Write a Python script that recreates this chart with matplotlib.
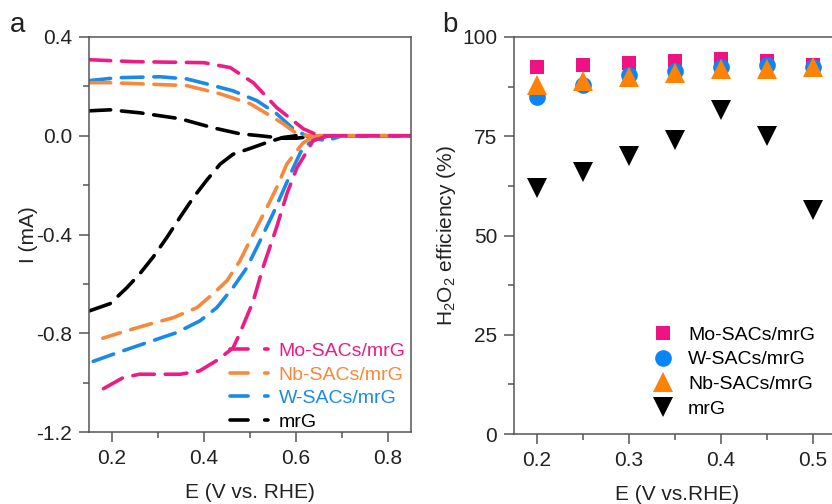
import matplotlib
matplotlib.use("Agg")
import matplotlib.pyplot as plt
from matplotlib.lines import Line2D
from matplotlib.ticker import MultipleLocator, FixedLocator

plt.rcParams['font.family'] = ['Liberation Sans', 'DejaVu Sans']
plt.rcParams['axes.unicode_minus'] = False
plt.rcParams['mathtext.fontset'] = 'custom'
plt.rcParams['mathtext.rm'] = 'Liberation Sans'

# ---------------- Panel a data ----------------
labels_a = ["Mo-SACs/mrG", "Nb-SACs/mrG", "W-SACs/mrG", "mrG"]

mo_E_up = [0.15, 0.25, 0.40, 0.457, 0.507, 0.558, 0.616, 0.65, 0.85]
mo_I_up = [0.308, 0.30, 0.296, 0.276, 0.215, 0.114, 0.028, 0.0, 0.0]
mo_E_dn = [0.67, 0.637, 0.62, 0.602, 0.58, 0.558, 0.528, 0.507, 0.478, 0.463, 0.428, 0.39, 0.348, 0.26, 0.224, 0.18]
mo_I_dn = [0.0, -0.02, -0.075, -0.13, -0.236, -0.37, -0.535, -0.67, -0.80, -0.86, -0.91, -0.953, -0.966, -0.966, -0.98, -1.026]

nb_E_up = [0.15, 0.196, 0.267, 0.363, 0.435, 0.50, 0.537, 0.572, 0.602, 0.63, 0.85]
nb_I_up = [0.215, 0.215, 0.21, 0.203, 0.17, 0.13, 0.089, 0.049, 0.008, 0.0, 0.0]
nb_E_dn = [0.64, 0.615, 0.602, 0.58, 0.558, 0.537, 0.507, 0.478, 0.45, 0.42, 0.385, 0.333, 0.282, 0.232, 0.18]
nb_I_dn = [0.0, -0.03, -0.06, -0.115, -0.21, -0.29, -0.398, -0.507, -0.587, -0.64, -0.696, -0.737, -0.763, -0.79, -0.82]

w_E_up = [0.15, 0.21, 0.304, 0.363, 0.406, 0.463, 0.515, 0.558, 0.594, 0.63, 0.667, 0.70, 0.85]
w_I_up = [0.223, 0.235, 0.239, 0.23, 0.21, 0.182, 0.142, 0.089, 0.028, -0.008, -0.02, 0.0, 0.0]
w_E_dn = [0.67, 0.646, 0.615, 0.594, 0.572, 0.55, 0.522, 0.493, 0.463, 0.428, 0.391, 0.341, 0.276, 0.21, 0.15]
w_I_dn = [0.0, -0.012, -0.047, -0.13, -0.223, -0.316, -0.425, -0.535, -0.615, -0.696, -0.75, -0.797, -0.838, -0.88, -0.92]

mrg_E_up = [0.15, 0.196, 0.26, 0.348, 0.42, 0.478, 0.522, 0.57, 0.60, 0.65, 0.85]
mrg_I_up = [0.101, 0.105, 0.093, 0.069, 0.032, 0.008, 0.0, -0.01, -0.01, 0.0, 0.0]
mrg_E_dn = [0.60, 0.572, 0.537, 0.507, 0.463, 0.435, 0.406, 0.377, 0.348, 0.32, 0.29, 0.26, 0.232, 0.196, 0.15]
mrg_I_dn = [0.0, -0.007, -0.027, -0.047, -0.075, -0.115, -0.18, -0.25, -0.33, -0.41, -0.49, -0.56, -0.616, -0.68, -0.71]

# ---------------- Panel b data ----------------
E_b = [0.20, 0.25, 0.30, 0.35, 0.40, 0.45, 0.50]
eff_mo = [92.5, 93.0, 93.5, 94.0, 94.5, 94.0, 93.0]
eff_w = [85.0, 88.0, 90.5, 91.5, 92.5, 93.0, 92.5]
eff_nb = [88.0, 89.0, 90.0, 91.0, 92.0, 92.0, 92.5]
eff_mrg = [62.0, 66.0, 70.0, 74.0, 81.5, 75.0, 56.5]

c_mo = '#EC1C86'
c_nb = '#F7883C'
c_w = '#1A8AE6'
c_k = '#000000'
cm_mo = '#EE1285'
cm_w = '#0A85F5'
cm_nb = '#FF8205'

txt = '#222222'
spine_c = '#555555'
fs = 14
fs_tick = 15

fig = plt.figure(figsize=(8.32, 5.04), dpi=100)
W, H = 832, 504
axA = fig.add_axes([89 / W, 1 - 432 / H, (411 - 89) / W, (432 - 37) / H])
axB = fig.add_axes([514 / W, 1 - 434 / H, (0.355 * 920) / W, (434 - 37) / H])

lw = 2.6
dash = (6.0, 3.0)
series = [
    (mo_E_up, mo_I_up, mo_E_dn, mo_I_dn, c_mo),
    (nb_E_up, nb_I_up, nb_E_dn, nb_I_dn, c_nb),
    (w_E_up, w_I_up, w_E_dn, w_I_dn, c_w),
    (mrg_E_up, mrg_I_up, mrg_E_dn, mrg_I_dn, c_k),
]
for Eu, Iu, Ed, Id, c in series[::-1]:
    for E, I in ((Eu, Iu), (Ed, Id)):
        axA.plot(E, I, color=c, lw=lw, dashes=dash, dash_capstyle='round', solid_capstyle='round')

axA.set_xlim(0.15, 0.85)
axA.set_ylim(-1.2, 0.4)
axA.xaxis.set_major_locator(FixedLocator([0.2, 0.4, 0.6, 0.8]))
axA.xaxis.set_minor_locator(FixedLocator([0.3, 0.5, 0.7]))
axA.yaxis.set_major_locator(FixedLocator([-1.2, -0.8, -0.4, 0.0, 0.4]))
axA.yaxis.set_minor_locator(FixedLocator([-1.0, -0.6, -0.2, 0.2]))
axA.set_xticklabels(['0.2', '0.4', '0.6', '0.8'])
axA.set_yticklabels(['-1.2', '-0.8', '-0.4', '0.0', '0.4'])
axA.set_xlabel('E (V vs. RHE)', fontsize=fs_tick, color=txt, labelpad=11)
axA.set_ylabel('I (mA)', fontsize=fs_tick, color=txt, labelpad=-1)

handles = []
for lab, c in zip(labels_a, [c_mo, c_nb, c_w, c_k]):
    handles.append(Line2D([], [], color=c, lw=lw, dashes=(5.0, 4.6), dash_capstyle='round'))
legA = axA.legend(handles, labels_a, loc='lower left', bbox_to_anchor=(0.414, -0.016), frameon=False,
                  fontsize=fs, handlelength=1.95, handletextpad=0.55, labelspacing=0.3,
                  borderaxespad=0.0)
for t, c in zip(legA.get_texts(), [c_mo, c_nb, c_w, c_k]):
    t.set_color(c)

# Panel b
axB.plot(E_b, eff_mo, ls='none', marker='s', ms=10.3, color=cm_mo, label='Mo-SACs/mrG', mew=0)
axB.plot(E_b, eff_w, ls='none', marker='o', ms=12, color=cm_w, label='W-SACs/mrG', mew=0)
axB.plot(E_b, eff_nb, ls='none', marker='^', ms=14.5, color=cm_nb, label='Nb-SACs/mrG', mew=0)
axB.plot(E_b, eff_mrg, ls='none', marker='v', ms=14.5, color=c_k, label='mrG', mew=0)
axB.set_xlim(0.175, 0.53)
axB.set_ylim(0, 100)
axB.xaxis.set_major_locator(FixedLocator([0.2, 0.3, 0.4, 0.5]))
axB.xaxis.set_minor_locator(FixedLocator([0.25, 0.35, 0.45]))
axB.yaxis.set_major_locator(MultipleLocator(25))
axB.yaxis.set_minor_locator(MultipleLocator(12.5))
axB.set_xticklabels(['0.2', '0.3', '0.4', '0.5'])
axB.set_xlabel('E (V vs.RHE)', fontsize=fs_tick, color=txt, labelpad=11)
axB.set_ylabel(r'$\mathregular{H_2O_2}$ efficiency (%)', fontsize=fs_tick, color=txt, labelpad=3)
axB.legend(loc='lower left', bbox_to_anchor=(0.36, 0.012), frameon=False, fontsize=fs,
           handletextpad=0.3, labelspacing=0.36, borderaxespad=0.2)

for ax in (axA, axB):
    for s in ax.spines.values():
        s.set_color(spine_c)
        s.set_linewidth(1.1)
    ax.tick_params(which='major', direction='out', length=7, width=1.1, color=spine_c,
                   labelsize=fs_tick, labelcolor=txt, pad=5)
    ax.tick_params(which='minor', direction='out', length=4, width=1.1, color=spine_c)

fig.text(18 / W, 1 - 25 / H, 'a', fontsize=20, color=txt, ha='center', va='center')
fig.text(450 / W, 1 - 25 / H, 'b', fontsize=20, color=txt, ha='center', va='center')

fig.savefig('out.png', dpi=100)
